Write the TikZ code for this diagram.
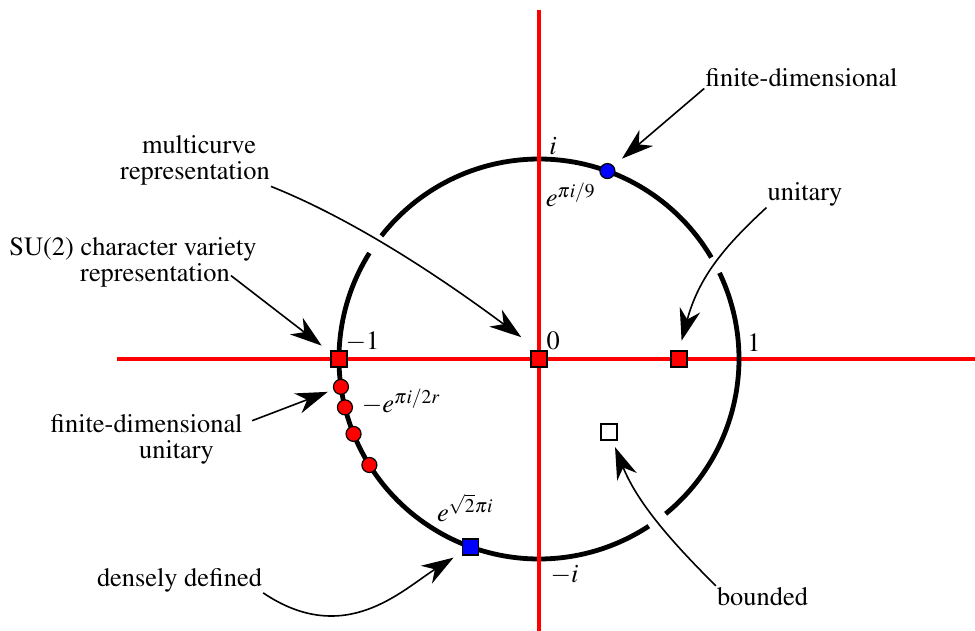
\documentclass[tikz,border=0pt]{standalone}
\usepackage[T1]{fontenc}
\usepackage{mathptmx}
\usetikzlibrary{arrows.meta, calc, positioning}

\begin{document}
\begin{tikzpicture}[
    x=1pt, y=1pt,
    font=\fontsize{26.4}{30}\selectfont,
    axis/.style={red, line width=4.2pt},
    unitcirc/.style={black, line width=4.8pt},
    redsq/.style={rectangle, draw=black, fill=red, line width=1.2pt, minimum size=16pt, inner sep=0pt},
    bluesq/.style={redsq, fill=blue},
    opensq/.style={redsq, fill=white},
    reddot/.style={circle, draw=black, fill=red, line width=1.2pt, minimum size=15pt, inner sep=0pt},
    bluedot/.style={reddot, fill=blue},
    lbl/.style={anchor=base, inner sep=1pt},
    mlbl/.style={anchor=base, inner sep=0pt},
    arrow/.style={-{Stealth[length=32pt, width=21pt, inset=10pt]}, line width=1.6pt}
]
    \useasboundingbox (0,0) rectangle (975,-631);
    \coordinate (O) at (539,-359);

    % Axes and unit circle (gaps where arrows pass)
    \draw[axis] (117,-359) -- (975,-359);
    \foreach \s/\e in {-50.7/25.5, 30.5/142, 148/303.3}
        \draw[unitcirc] (O) ++(\s:200) arc[start angle=\s, end angle=\e, radius=200];
    \draw[axis] (539,-10) -- (539,-631);

    % Points
    \node[redsq] (mone) at (339,-359) {};
    \node[redsq] (zero) at (O) {};
    \node[redsq] (uni) at (679,-359) {};
    \node[opensq] (bnd) at (609,-432) {};
    \node[bluedot] (fdot) at ($(O)+(70:200)$) {};
    \node[bluesq] (bsq) at ($(O)+(250:200)$) {};
    \foreach \a in {188,194,202,212}
        \node[reddot] (d\a) at ($(O)+(\a:200)$) {};

    % Values
    \node[mlbl] (vi) at (553,-154.3) {$i$};
    \node[mlbl] (vninth) at (570.5,-206.7) {$e^{\pi i/9}$};
    \node[mlbl] (vzero) at (553.3,-349.5) {$0$};
    \node[mlbl] (vmone) at (362.5,-349.3) {$-1$};
    \node[mlbl] (vone) at (754,-351) {$1$};
    \node[mlbl] (vroot) at (401,-412.7) {$-e^{\pi i/2r}$};
    \node[mlbl] (vsqrt) at (465,-521.7) {$e^{\sqrt{2}\pi i}$};
    \node[mlbl] (vmi) at (564.5,-582.3) {$-i$};

    % Labels
    \node[lbl] (fdtop) at (801.5,-87) {finite-dimensional};
    \node[lbl] (unitop) at (805,-200.7) {unitary};
    \node[lbl] (mc) at (199,-153.5) {multicurve};
    \node[lbl] (mcrep) at (195,-179.5) {representation};
    \node[lbl] (su) at (133,-255) {SU(2) character variety};
    \node[lbl] (surep) at (155,-281.7) {representation};
    \node[lbl] (fdu) at (146.5,-432.7) {finite-dimensional};
    \node[lbl] (fdunit) at (176.5,-458) {unitary};
    \node[lbl] (dense) at (179.5,-586) {densely defined};
    \node[lbl] (bounded) at (762.5,-605) {bounded};

    % Arrows
    \draw[arrow, shorten >=11pt] (fdtop.south west) -- (fdot);
    \draw[arrow, shorten >=10pt] (unitop.south west) .. controls (726,-245) and (699,-276) .. (uni.north);
    \draw[arrow, shorten >=22pt] (mcrep.south east) .. controls (360,-222) and (451,-285) .. (zero.north);
    \draw[arrow, shorten >=11pt] (surep.east) -- (mone);
    \draw[arrow, shorten <=9pt, shorten >=6pt] (fdu.east) -- (d188);
    \draw[arrow, shorten >=10pt] (dense.south east) .. controls (345,-648) and (402,-590) .. (bsq);
    \draw[arrow, shorten >=7pt] (bounded.north west) .. controls (680,-550) and (639,-507) .. (bnd);
\end{tikzpicture}
\end{document}
